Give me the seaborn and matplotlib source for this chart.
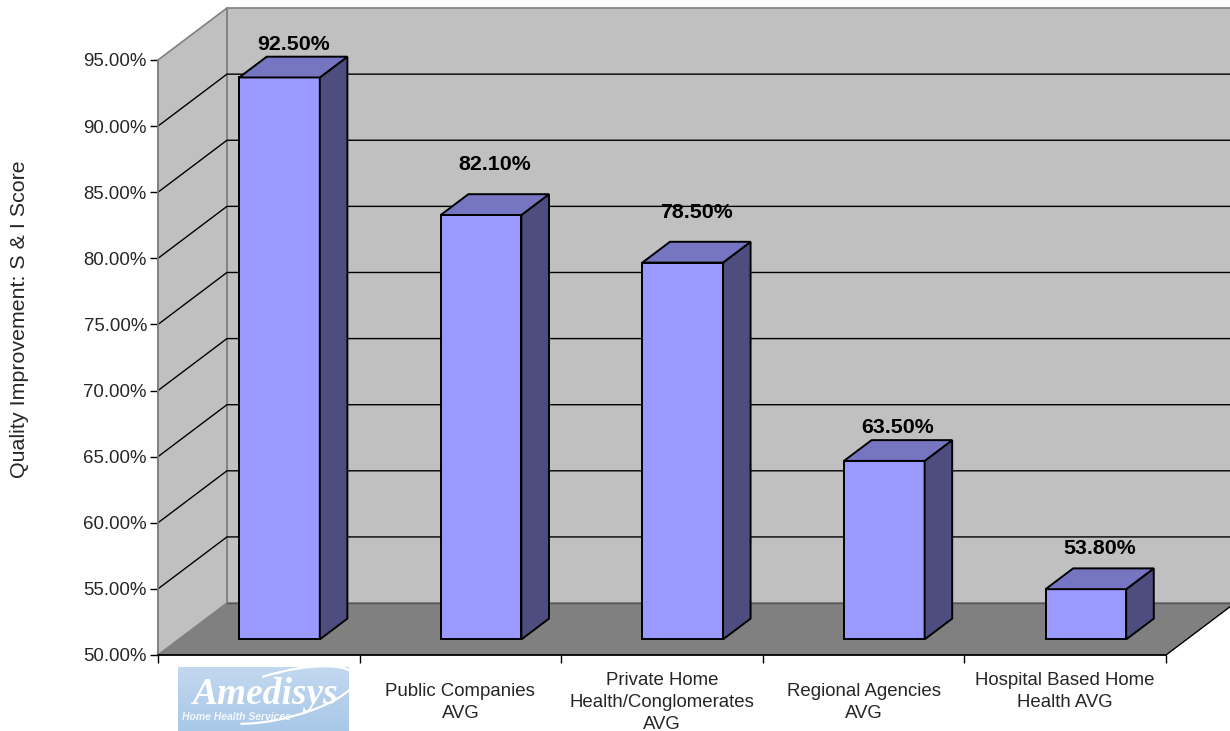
import numpy as np
import pandas as pd
import matplotlib
matplotlib.use("Agg")
import matplotlib.pyplot as plt
import matplotlib.transforms as mtransforms
from matplotlib.patches import Polygon, Rectangle, Arc
import seaborn as sns

# ---- data ----
categories = [
    "Amedisys",
    "Public Companies\nAVG",
    "Private Home\nHealth/Conglomerates\nAVG",
    "Regional Agencies\nAVG",
    "Hospital Based Home\nHealth AVG\n",
]
values = [92.5, 82.1, 78.5, 63.5, 53.8]
y_ticks = [50, 55, 60, 65, 70, 75, 80, 85, 90, 95]
y_label = "Quality Improvement: S & I Score"
label_offsets_pt = [16.6, 28.8, 28.8, 16.6, 21.6]

# ---- style ----
sns.set_theme(style="white")
plt.rcParams["font.family"] = ["Liberation Sans", "DejaVu Sans"]

FRONT = "#9999FF"
TOP = "#7575C2"
SIDE = "#4D4D80"
WALL = "#C0C0C0"
FLOOR = "#808080"

fig = plt.figure(figsize=(12.3, 7.31), dpi=100)
ax = fig.add_axes([158 / 1230, 76 / 731, 1008 / 1230, 595 / 731])
ax.set_facecolor("none")

df = pd.DataFrame({"category": categories, "value": values})
sns.barplot(data=df, x="category", y="value", order=categories, width=0.4,
            color=FRONT, saturation=1, edgecolor="black", linewidth=1.4,
            ax=ax, zorder=5)

ax.set_xlim(-0.5, 4.5)
ax.set_ylim(50, 95)

# depth vector in data units (full depth of the 3D box)
DX, DY = 0.342, 3.93
f1, f2 = 0.3, 0.7

# walls and floor
xl, xr = -0.5, 4.5
back = Polygon([(xl + DX, 50 + DY), (xr + DX, 50 + DY), (xr + DX, 95 + DY), (xl + DX, 95 + DY)],
               closed=True, facecolor=WALL, edgecolor="#808080", lw=1.2, zorder=1, clip_on=False)
side = Polygon([(xl, 50), (xl + DX, 50 + DY), (xl + DX, 95 + DY), (xl, 95)],
               closed=True, facecolor=WALL, edgecolor="#808080", lw=1.2, zorder=1.1, clip_on=False)
ax.add_patch(back)
ax.add_patch(side)
for v in y_ticks[1:-1]:
    ax.plot([xl, xl + DX, xr + DX], [v, v + DY, v + DY], color="black", lw=1.0,
            zorder=1.5, clip_on=False)
floor = Polygon([(xl, 50), (xr, 50), (xr + DX, 50 + DY), (xl + DX, 50 + DY)],
                closed=True, facecolor=FLOOR, edgecolor="none", zorder=2, clip_on=False)
ax.add_patch(floor)
ax.plot([xl + DX, xr + DX], [50 + DY, 50 + DY], color="#555555", lw=1.0, zorder=2.1, clip_on=False)
ax.plot([xr, xr + DX], [50, 50 + DY], color="black", lw=1.0, zorder=2.1, clip_on=False)

# 3D bars: shift fronts into depth, add side and top faces
shift = mtransforms.Affine2D().translate(f1 * DX, f1 * DY) + ax.transData
bars = [p for p in ax.patches if isinstance(p, Rectangle) and p.get_width() < 1][:len(values)]
for i, (p, v) in enumerate(zip(bars, values)):
    p.set_y(50)
    p.set_height(v - 50)
    p.set_transform(shift)
    p.set_clip_on(False)
    x0 = p.get_x()
    x1 = x0 + p.get_width()
    sidef = Polygon([(x1 + f1 * DX, 50 + f1 * DY), (x1 + f1 * DX, v + f1 * DY),
                     (x1 + f2 * DX, v + f2 * DY), (x1 + f2 * DX, 50 + f2 * DY)],
                    closed=True, facecolor=SIDE, edgecolor="black", lw=1.4, zorder=5,
                    clip_on=False)
    topf = Polygon([(x0 + f1 * DX, v + f1 * DY), (x1 + f1 * DX, v + f1 * DY),
                    (x1 + f2 * DX, v + f2 * DY), (x0 + f2 * DX, v + f2 * DY)],
                   closed=True, facecolor=TOP, edgecolor="black", lw=1.4, zorder=5,
                   clip_on=False)
    ax.add_patch(sidef)
    ax.add_patch(topf)
    cx = (x0 + x1) / 2 + 0.5 * DX
    ax.annotate(f"{v:.2f}%", xy=(cx, v + 0.5 * DY), xytext=(0, label_offsets_pt[i]),
                textcoords="offset points", ha="center", va="center",
                fontsize=15.4, fontweight="bold", color="black", zorder=10,
                annotation_clip=False)

# axes styling
for s in ["top", "right"]:
    ax.spines[s].set_visible(False)
ax.spines["left"].set_color("#808080")
ax.spines["left"].set_linewidth(1.2)
ax.spines["bottom"].set_color("black")
ax.spines["bottom"].set_linewidth(1.3)
ax.spines["left"].set_zorder(3)
ax.spines["bottom"].set_zorder(3)

ax.set_yticks(y_ticks)
ax.set_yticklabels([f"{t:.2f}%" for t in y_ticks])
ax.tick_params(axis="y", which="major", direction="out", length=6, width=1.0,
               color="black", pad=2, labelsize=13.4, left=True)

ax.set_xticks(np.arange(-0.5, len(categories), 1.0))
ax.set_xticklabels([""] * (len(categories) + 1))
ax.tick_params(axis="x", which="major", direction="out", length=6, width=1.0,
               color="black", bottom=True)
ax.set_xticks(np.arange(len(categories)), minor=True)
ax.set_xticklabels([""] + categories[1:], minor=True)
ax.tick_params(axis="x", which="minor", length=0, pad=34, labelsize=13.4)
for lab in ax.get_xticklabels(minor=True):
    lab.set_va("center")
    lab.set_multialignment("center")
    lab.set_linespacing(1.4)

ax.set_xlabel("")
ax.set_ylabel(y_label, fontsize=15.4)
ax.yaxis.set_label_coords(-0.128, 0.565)

# logo-like badge for the first category
lax = fig.add_axes([178 / 1230, 0, 171 / 1230, 64 / 731])
lax.set_xlim(0, 171)
lax.set_ylim(0, 64)
lax.axis("off")
grad = np.linspace(0, 1, 64).reshape(-1, 1) * np.ones((1, 171))
lax.imshow(grad, extent=(0, 171, 0, 64), cmap=matplotlib.colors.LinearSegmentedColormap.from_list(
    "sky", ["#A9C8E8", "#C2D8EF"]), aspect="auto", origin="lower")
lax.add_patch(Arc((105, 36), 150, 46, angle=14, theta1=-160, theta2=125,
                  color="white", lw=1.6))
lax.text(88, 36, "Amedisys", color="white", fontsize=27, fontweight="bold",
         fontstyle="italic", family=["Liberation Serif", "DejaVu Serif"],
         ha="center", va="center")
lax.text(58, 14, "Home Health Services", color="white", fontsize=7.5,
         fontstyle="italic", fontweight="bold", ha="center", va="center", alpha=0.85)

fig.savefig("out.png", dpi=100)
